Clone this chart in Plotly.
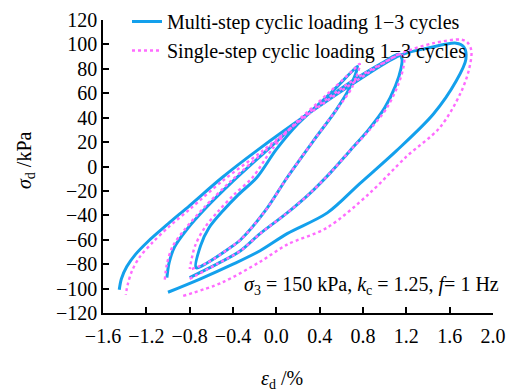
import plotly.graph_objects as go

# Hysteresis loops, deviator stress (kPa) vs axial strain (%)
# Each loop: loading branch start -> peak -> unloading branch -> trough

# Multi-step cyclic loading
multi_small_strain = [-0.74, -0.64, -0.45, -0.33, -0.10, 0.10, 0.35, 0.55, 0.68, 0.75,
                      0.70, 0.50, 0.20, 0.00, -0.18, -0.35, -0.49, -0.62, -0.70, -0.74]
multi_small_stress = [-83, -79, -68, -60, -36, -9, 22, 46, 65, 82,
                      78, 60, 35, 14, -9, -23, -36, -50, -65, -83]

multi_mid_strain = [-0.80, -0.55, -0.33, -0.15, 0.10, 0.31, 0.50, 0.68, 0.85, 1.00, 1.10, 1.15, 1.16, 1.13,
                    1.00, 0.70, 0.30, -0.09, -0.40, -0.64, -0.83, -0.94, -0.99, -1.01]
multi_mid_stress = [-91, -80, -69, -55, -38, -22, -5, 13, 30, 48, 66, 80, 88, 92,
                    86, 70, 44, 13, -12, -33, -52, -66, -79, -91]

multi_big_strain = [-1.00, -0.70, -0.40, -0.15, 0.10, 0.47, 0.77, 1.11, 1.45, 1.66, 1.75, 1.73, 1.66,
                    1.40, 1.14, 0.71, 0.34, -0.18, -0.50, -0.80, -1.00, -1.18, -1.30, -1.38, -1.43, -1.45]
multi_big_stress = [-103, -92, -80, -69, -55, -38, -14, 13, 43, 70, 88, 98, 101,
                    97, 91, 68, 46, 13, -9, -32, -47, -61, -72, -82, -92, -101]

# Single-step cyclic loading
single_small_strain = [-0.78, -0.64, -0.45, -0.33, -0.10, 0.10, 0.35, 0.55, 0.70, 0.77,
                       0.71, 0.48, 0.17, -0.04, -0.22, -0.39, -0.53, -0.66, -0.75, -0.80]
single_small_stress = [-84, -79, -68, -60, -36, -9, 22, 46, 65, 84,
                       79, 60, 35, 14, -9, -23, -36, -50, -65, -84]

single_mid_strain = [-0.80, -0.55, -0.33, -0.15, 0.10, 0.31, 0.50, 0.68, 0.86, 1.02, 1.12, 1.17, 1.18, 1.15,
                     1.01, 0.70, 0.30, -0.10, -0.42, -0.66, -0.85, -0.96, -1.01, -1.03]
single_mid_stress = [-92, -80, -69, -55, -38, -22, -5, 13, 30, 48, 66, 80, 88, 92,
                     86, 70, 44, 13, -12, -33, -52, -66, -80, -93]

single_big_strain = [-0.86, -0.50, -0.15, 0.10, 0.47, 0.86, 1.20, 1.51, 1.70, 1.78, 1.80, 1.76, 1.70,
                     1.45, 1.14, 0.70, 0.30, -0.14, -0.50, -0.80, -1.00, -1.14, -1.26, -1.33, -1.37, -1.39]
single_big_stress = [-106, -95, -78, -64, -50, -22, 8, 32, 60, 80, 95, 102, 104,
                     101, 92, 68, 43, 12, -12, -35, -50, -62, -74, -85, -96, -105]

x_ticks = [-1.6, -1.2, -0.8, -0.4, 0.0, 0.4, 0.8, 1.2, 1.6, 2.0]
y_ticks = [-120, -100, -80, -60, -40, -20, 0, 20, 40, 60, 80, 100, 120]


def join_loops(*loops):
    xs, ys = [], []
    for lx, ly in loops:
        if xs:
            xs.append(None)
            ys.append(None)
        xs.extend(lx)
        ys.extend(ly)
    return xs, ys


mx, my = join_loops((multi_small_strain, multi_small_stress),
                    (multi_mid_strain, multi_mid_stress),
                    (multi_big_strain, multi_big_stress))
sx, sy = join_loops((single_small_strain, single_small_stress),
                    (single_mid_strain, single_mid_stress),
                    (single_big_strain, single_big_stress))

SERIF = "Liberation Serif, Times New Roman, serif"
FS = 20
BLUE = "#13A0EC"
PINK = "#FF6BFF"
W, H = 508, 392

fig = go.Figure()
fig.add_trace(go.Scatter(
    x=mx, y=my, mode="lines", name="Multi-step cyclic loading 1\u22123 cycles",
    line=dict(color=BLUE, width=3, shape="spline", smoothing=0.9),
    connectgaps=False,
))
fig.add_trace(go.Scatter(
    x=sx, y=sy, mode="lines", name="Single-step cyclic loading 1\u22123 cycles",
    line=dict(color=PINK, width=2.4, dash="dot", shape="spline", smoothing=0.9),
    connectgaps=False,
))

axis_common = dict(
    showgrid=False, zeroline=False, showline=True, linecolor="black", linewidth=1.5,
    ticks="inside", ticklen=6, tickwidth=1.5, tickcolor="black",
    tickfont=dict(family=SERIF, size=FS, color="black"),
)

fig.update_xaxes(range=[-1.6, 2.0], tickvals=x_ticks, tickformat=".1f",
                 ticklabelstandoff=4, **axis_common)
fig.update_yaxes(range=[-120, 120], tickvals=y_ticks, **axis_common)

fig.update_layout(
    width=W, height=H,
    margin=dict(l=103, r=15, t=20, b=79, autoexpand=False),
    paper_bgcolor="white", plot_bgcolor="white",
    font=dict(family=SERIF, size=FS, color="black"),
    showlegend=True,
    # legend positioned against the whole canvas so it does not push the plot area
    legend=dict(xref="container", yref="container", x=127 / W, y=1 - 2 / H,
                xanchor="left", yanchor="top",
                bgcolor="rgba(0,0,0,0)", font=dict(family=SERIF, size=FS),
                itemwidth=30, tracegroupgap=0),
)

# annotation and axis titles placed in pixel terms converted to paper coordinates
plot_w, plot_h = W - 103 - 15, H - 20 - 79


def px_to_paper(px, py):
    return (px - 103) / plot_w, (H - 79 - py) / plot_h


ax, ay = px_to_paper(501, 285)
fig.add_annotation(text="<i>\u03c3</i><sub>3</sub> = 150 kPa, <i>k</i><sub>c</sub> = 1.25, <i>f</i>= 1 Hz",
                   x=ax, y=ay, xref="paper", yref="paper", xanchor="right", yanchor="middle",
                   showarrow=False, font=dict(family=SERIF, size=FS))
tx, ty = px_to_paper(282, 379)
fig.add_annotation(text="<i>\u03b5</i><sub>d</sub> /%", x=tx, y=ty, xref="paper", yref="paper",
                   xanchor="center", yanchor="middle", showarrow=False,
                   font=dict(family=SERIF, size=FS))
yx, yy = px_to_paper(25, 160)
fig.add_annotation(text="<i>\u03c3</i><sub>d</sub> /kPa", x=yx, y=yy, xref="paper", yref="paper",
                   xanchor="center", yanchor="middle", textangle=-90, showarrow=False,
                   font=dict(family=SERIF, size=FS))

fig.write_html("out.html")
